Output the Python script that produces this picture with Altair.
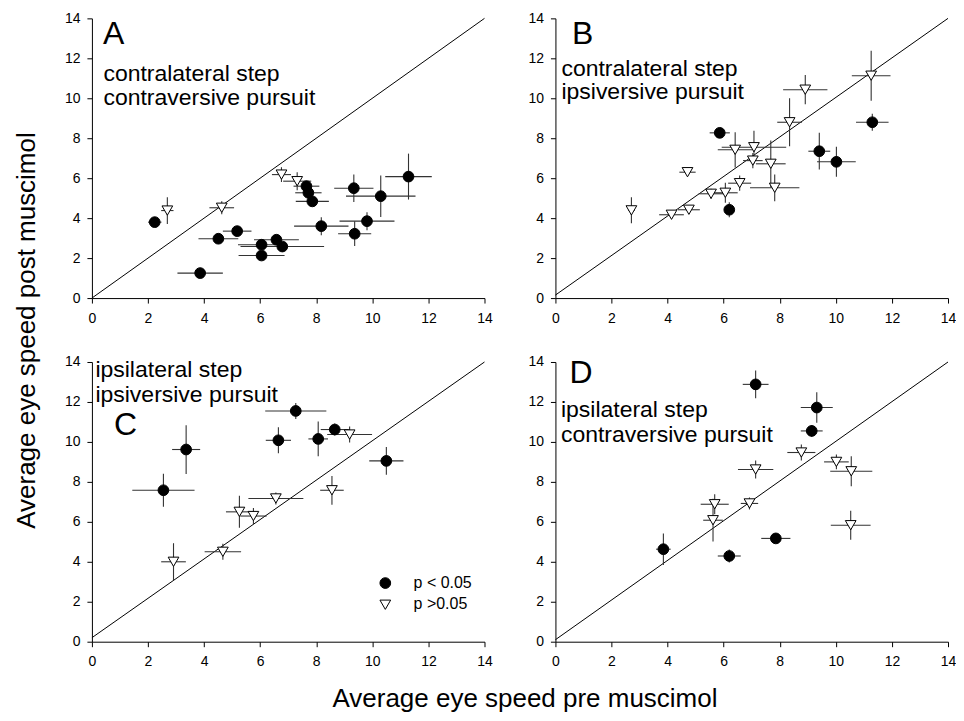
import altair as alt
import pandas as pd

FONT = "Liberation Sans"
SIG_LABELS = ["p < 0.05", "p >0.05"]
TICKS = [0, 2, 4, 6, 8, 10, 12, 14]

# ---------------- Panel A ----------------
A_x = [2.24, 3.86, 4.51, 5.18, 6.05, 6.05, 6.58, 6.79, 7.65, 7.72, 7.86, 8.18, 9.34, 9.37, 9.81, 10.30, 11.29,
       2.69, 4.63, 6.76, 7.32]
A_y = [3.80, 1.25, 2.97, 3.35, 2.67, 2.13, 2.92, 2.58, 5.60, 5.27, 4.84, 3.60, 5.50, 3.22, 3.85, 5.10, 6.08,
       4.38, 4.52, 6.18, 5.85]
A_xe = [0.24, 0.81, 0.71, 0.51, 0.84, 0.82, 0.80, 1.49, 0.46, 0.47, 0.59, 0.97, 0.70, 0.59, 0.98, 1.24, 0.83,
        0.22, 0.44, 0.34, 0.50]
A_ye = [0.12, 0.10, 0.10, 0.10, 0.15, 0.15, 0.15, 0.20, 0.15, 0.12, 0.12, 0.45, 0.69, 0.62, 0.45, 1.04, 1.15,
        0.67, 0.33, 0.37, 0.45]
A_sig = [1] * 17 + [0] * 4

# ---------------- Panel B ----------------
B_x = [5.86, 6.20, 9.41, 10.02, 11.30,
       2.71, 4.14, 4.76, 4.71, 5.55, 6.06, 6.57, 6.41, 7.08, 7.04, 7.68, 7.82, 8.35, 8.91, 11.26]
B_y = [8.27, 4.42, 7.35, 6.82, 8.80,
       4.39, 4.17, 4.42, 6.30, 5.22, 5.27, 5.75, 7.42, 7.55, 6.88, 6.72, 5.52, 8.80, 10.43, 11.13]
B_xe = [0.36, 0.15, 0.39, 0.69, 0.58,
        0.12, 0.44, 0.39, 0.29, 0.44, 0.44, 0.41, 0.62, 1.15, 0.35, 0.53, 0.88, 0.44, 0.79, 0.69]
B_ye = [0.15, 0.37, 0.92, 0.75, 0.43,
        0.65, 0.20, 0.20, 0.18, 0.25, 0.50, 0.38, 0.88, 0.83, 0.38, 1.17, 0.67, 1.20, 0.73, 1.25]
B_sig = [1] * 5 + [0] * 15

# ---------------- Panel C ----------------
C_x = [2.55, 3.36, 6.65, 7.27, 8.07, 8.66, 10.50,
       2.91, 4.67, 5.26, 5.76, 6.56, 8.56, 9.19]
C_y = [7.58, 9.62, 10.08, 11.55, 10.15, 10.62, 9.05,
       4.00, 4.50, 6.50, 6.29, 7.17, 7.58, 10.37]
C_xe = [1.11, 0.50, 0.45, 1.09, 0.35, 0.50, 0.61,
        0.44, 0.65, 0.48, 0.47, 0.98, 0.42, 0.80]
C_ye = [0.83, 1.22, 0.65, 0.40, 0.87, 0.30, 0.69,
        0.93, 0.40, 0.80, 0.40, 0.30, 0.72, 0.40]
C_sig = [1] * 7 + [0] * 7

# ---------------- Panel D ----------------
D_x = [3.85, 6.20, 7.86, 7.14, 9.14, 9.32,
       5.62, 5.68, 6.92, 7.14, 8.77, 10.02, 10.55, 10.53]
D_y = [4.63, 4.29, 5.17, 12.88, 10.55, 11.72,
       6.08, 6.88, 6.92, 8.62, 9.47, 9.00, 8.53, 5.83]
D_xe = [0.26, 0.41, 0.52, 0.46, 0.39, 0.57,
        0.35, 0.50, 0.31, 0.63, 0.50, 0.44, 0.75, 0.71]
D_ye = [0.79, 0.33, 0.15, 0.69, 0.30, 0.76,
        1.07, 0.50, 0.30, 0.45, 0.40, 0.37, 0.75, 0.73]
D_sig = [1] * 6 + [0] * 8

PANEL_LETTERS = ["A", "B", "C", "D"]
PANEL_TEXTS = [
    "contralateral step\ncontraversive pursuit",
    "contralateral step\nipsiversive pursuit",
    "ipsilateral step\nipsiversive pursuit",
    "ipsilateral step\ncontraversive pursuit",
]
DIAG_X = [0, 14]
DIAG_Y = [[0, 14], [0.15, 14], [0.2, 14], [0.1, 14]]

X_TITLE = "Average eye speed pre muscimol"
Y_TITLE = "Average eye speed post muscimol"

SHAPES = ["circle", "triangle-down"]
FILLS = ["black", "white"]

W, H = 393, 280


def make_df(xs, ys, xe, ye, sig):
    return pd.DataFrame({
        "x": xs, "y": ys,
        "xlo": [a - b for a, b in zip(xs, xe)], "xhi": [a + b for a, b in zip(xs, xe)],
        "ylo": [a - b for a, b in zip(ys, ye)], "yhi": [a + b for a, b in zip(ys, ye)],
        "sig": [SIG_LABELS[0] if s else SIG_LABELS[1] for s in sig],
    })


def legend_layers():
    # key drawn inside panel C (symbol + label per row)
    out = []
    rows = [(221.3, 226.5), (243.0, 247.5)]
    for i, (sy, ty) in enumerate(rows):
        d = pd.DataFrame({"t": [SIG_LABELS[i]]})
        out.append(alt.Chart(d).mark_point(
            shape=SHAPES[i], fill=FILLS[i], filled=True, stroke="black", strokeWidth=1,
            size=115, opacity=1).encode(x=alt.value(293.7), y=alt.value(sy)))
        out.append(alt.Chart(d).mark_text(
            align="left", baseline="alphabetic", font=FONT, fontSize=16, color="black").encode(
            x=alt.value(322), y=alt.value(ty), text="t:N"))
    return out


def panel(df, idx, letter_xy, text_xy, line_h, show_legend=False, xtitle=None, ytitle=None):
    sx = alt.Scale(domain=[0, 14], nice=False, zero=False)
    sy = alt.Scale(domain=[0, 14], nice=False, zero=False)
    if xtitle is None:
        xa = alt.Axis(values=TICKS, title=None, labelPadding=8)
    else:
        xa = alt.Axis(values=TICKS, title=xtitle, labelPadding=8,
                      titleX=433, titleY=65, titleAlign="center", titleBaseline="alphabetic")
    if ytitle is None:
        ya = alt.Axis(values=TICKS, title=None, labelPadding=7)
    else:
        ya = alt.Axis(values=TICKS, title=ytitle, labelPadding=7,
                      titleX=-57, titleY=312, titleAlign="center", titleBaseline="alphabetic", titleAngle=270)

    def X(f):
        return alt.X(f, type="quantitative", scale=sx, axis=xa)

    def Y(f):
        return alt.Y(f, type="quantitative", scale=sy, axis=ya)

    diag = alt.Chart(pd.DataFrame({"x": DIAG_X, "y": DIAG_Y[idx]})).mark_line(
        color="black", strokeWidth=1).encode(x=X("x"), y=Y("y"))

    base = alt.Chart(df)
    xerr = base.mark_rule(color="#333333", strokeWidth=1.1).encode(x=X("xlo"), x2="xhi", y=Y("y"))
    yerr = base.mark_rule(color="#333333", strokeWidth=1.1).encode(x=X("x"), y=Y("ylo"), y2="yhi")

    pts = base.mark_point(filled=True, stroke="black", strokeWidth=1, size=115, opacity=1).encode(
        x=X("x"), y=Y("y"),
        fill=alt.Fill("sig:N", scale=alt.Scale(domain=SIG_LABELS, range=FILLS), legend=None),
        shape=alt.Shape("sig:N", scale=alt.Scale(domain=SIG_LABELS, range=SHAPES), legend=None),
    )

    letter = alt.Chart(pd.DataFrame({"t": [PANEL_LETTERS[idx]]})).mark_text(
        align="left", baseline="alphabetic", font=FONT, fontSize=32, color="black").encode(
        x=alt.value(letter_xy[0]), y=alt.value(letter_xy[1]), text="t:N")
    txt = alt.Chart(pd.DataFrame({"t": [PANEL_TEXTS[idx]]})).mark_text(
        align="left", baseline="alphabetic", font=FONT, fontSize=23, color="black",
        lineBreak="\n", lineHeight=line_h).encode(
        x=alt.value(text_xy[0]), y=alt.value(text_xy[1]), text="t:N")

    layers = [diag, xerr, yerr, pts, letter, txt]
    if show_legend:
        layers += legend_layers()
    return alt.layer(*layers).properties(width=W, height=H)


pA = panel(make_df(A_x, A_y, A_xe, A_ye, A_sig), 0, (11, 25.3), (11.5, 63), 24, ytitle=Y_TITLE)
pB = panel(make_df(B_x, B_y, B_xe, B_ye, B_sig), 1, (16.5, 25.3), (6, 58), 23)
pC = panel(make_df(C_x, C_y, C_xe, C_ye, C_sig), 2, (22, 73), (3.5, 14.7), 25, show_legend=True, xtitle=X_TITLE)
pD = panel(make_df(D_x, D_y, D_xe, D_ye, D_sig), 3, (14, 21), (5.5, 54.7), 25)

chart = alt.concat(pA, pB, pC, pD, columns=2, spacing={"row": 64, "column": 71}, bounds="flush").properties(
    padding={"left": 6, "top": 3, "right": 0, "bottom": 0}
).configure_view(stroke=None).configure_axis(
    grid=False, domainColor="black", tickColor="black", labelColor="black",
    labelFont=FONT, labelFontSize=14, tickSize=5, labelFlush=False, labelOverlap=False,
    titleFont=FONT, titleFontSize=26, titleFontWeight="normal", titleColor="black",
    domainWidth=1, tickWidth=1,
)

chart.save("out.html", embed_options={"renderer": "svg", "actions": False})
